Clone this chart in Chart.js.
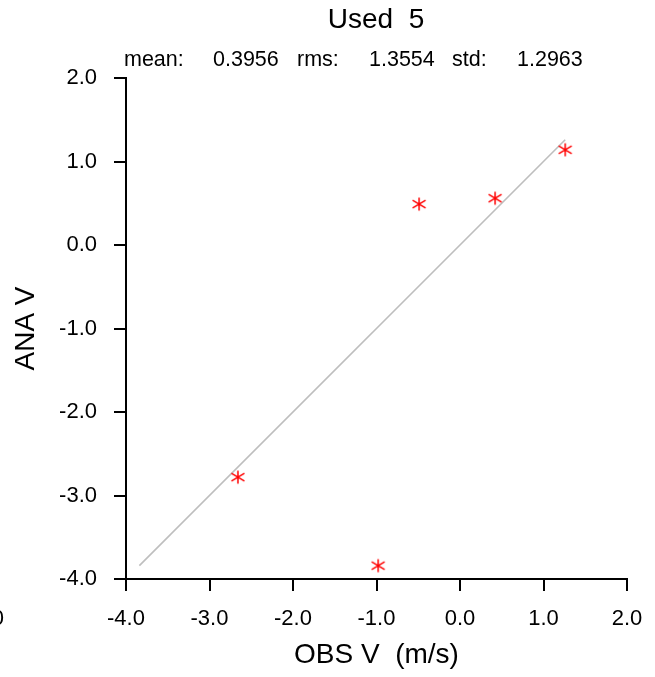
<!DOCTYPE html>
<html>
<head>
<meta charset="utf-8">
<script src="https://cdn.jsdelivr.net/npm/chart.js@4.4.0/dist/chart.umd.min.js"></script>
<style>
  html, body { margin: 0; padding: 0; background: #fff; }
  #wrap { width: 655px; height: 677px; }
</style>
</head>
<body>
<div id="wrap"><canvas id="chart" width="655" height="677"></canvas></div>
<script>
// DATA
const obsV = [1.26, 0.42, -0.49, -2.66, -0.98];
const anaV = [1.14, 0.56, 0.49, -2.78, -3.84];
const diagX = [-3.84, 1.26];
const diagY = [-3.84, 1.26];
const xTickVals = [-4, -3, -2, -1, 0, 1, 2];
const yTickVals = [-4, -3, -2, -1, 0, 1, 2];
const titleText = 'Used  5';
const statLabels = ['mean:', 'rms:', 'std:'];
const statValues = ['0.3956', '1.3554', '1.2963'];

const FONT = "'Liberation Sans', Arial, Helvetica, sans-serif";

// asterisk marker, 6 spokes
function makeStar() {
  const c = document.createElement('canvas');
  c.width = 16; c.height = 16;
  const g = c.getContext('2d');
  g.strokeStyle = '#ff0000';
  g.lineWidth = 1.5;
  g.beginPath();
  g.moveTo(8, 1.5); g.lineTo(8, 14.5);
  g.moveTo(1.5, 4.2); g.lineTo(14.5, 11.8);
  g.moveTo(1.5, 11.8); g.lineTo(14.5, 4.2);
  g.stroke();
  return c;
}

// TITLE + STATS TEXT
const textPlugin = {
  id: 'textPlugin',
  afterDraw(chart) {
    const ctx = chart.ctx;
    ctx.save();
    ctx.fillStyle = '#000';
    ctx.textBaseline = 'alphabetic';
    ctx.font = '28px ' + FONT;
    ctx.textAlign = 'center';
    ctx.fillText(titleText, 376, 28);

    ctx.font = '21.5px ' + FONT;
    ctx.textAlign = 'left';
    const labelX = [124, 297, 452];
    const valueX = [213, 369, 517];
    statLabels.forEach((s, i) => {
      ctx.fillText(s, labelX[i], 66);
      ctx.fillText(statValues[i], valueX[i], 66);
    });

    // clipped leftover label at the left edge
    ctx.font = '22px ' + FONT;
    ctx.textAlign = 'right';
    ctx.fillText('0', 4, 625);
    ctx.restore();
  }
};

const pts = obsV.map((x, i) => ({ x: x, y: anaV[i] }));
const diag = diagX.map((x, i) => ({ x: x, y: diagY[i] }));

const axisCommon = {
  type: 'linear',
  min: -4,
  max: 2,
  border: { display: true, color: '#000', width: 2 },
  grid: { display: true, drawOnChartArea: false, drawTicks: true, tickLength: 12, color: '#000', lineWidth: 2 },
};

new Chart(document.getElementById('chart'), {
  type: 'scatter',
  data: {
    datasets: [
      {
        type: 'line',
        data: diag,
        borderColor: '#bebebe',
        borderWidth: 1.6,
        pointRadius: 0,
        fill: false,
        order: 2
      },
      {
        data: pts,
        pointStyle: makeStar(),
        pointRadius: 7,
        order: 1
      }
    ]
  },
  options: {
    responsive: false,
    animation: false,
    devicePixelRatio: 1,
    layout: { padding: { top: 78, right: 28, left: 0, bottom: 0 } },
    plugins: { legend: { display: false }, tooltip: { enabled: false }, title: { display: false } },
    scales: {
      x: {
        ...axisCommon,
        position: 'bottom',
        afterBuildTicks: s => { s.ticks = xTickVals.map(v => ({ value: v })); },
        afterFit: s => { s.height = 98; s.paddingLeft = 0; s.paddingRight = 0; },
        ticks: {
          padding: 15, color: '#000', maxRotation: 0, autoSkip: false,
          font: { family: FONT, size: 22 },
          callback: v => Number(v).toFixed(1)
        },
        title: {
          display: true, text: 'OBS V  (m/s)', color: '#000',
          font: { family: FONT, size: 28 }, padding: { top: 0, bottom: 5 }
        }
      },
      y: {
        ...axisCommon,
        position: 'left',
        afterBuildTicks: s => { s.ticks = yTickVals.map(v => ({ value: v })); },
        afterFit: s => { s.width = 126; s.paddingTop = 0; s.paddingBottom = 0; },
        ticks: {
          padding: 17, color: '#000', autoSkip: false,
          font: { family: FONT, size: 22 },
          callback: v => Number(v).toFixed(1)
        },
        title: {
          display: true, text: 'ANA V', color: '#000',
          font: { family: FONT, size: 28 }, padding: { top: 9, bottom: 0 }
        }
      }
    }
  },
  plugins: [textPlugin]
});
</script>
</body>
</html>
